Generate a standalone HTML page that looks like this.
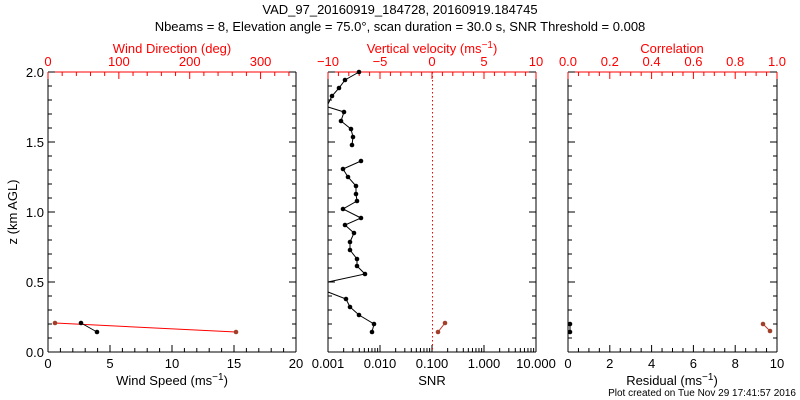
<!DOCTYPE html>
<html><head><meta charset="utf-8"><style>
html,body{margin:0;padding:0;background:#fff;width:800px;height:400px;overflow:hidden}
svg text{font-family:"Liberation Sans",sans-serif;font-size:13px}
</style></head><body>
<svg id="s" width="800" height="400" xmlns="http://www.w3.org/2000/svg">
<text x="400" y="14" text-anchor="middle">VAD_97_20160919_184728, 20160919.184745</text>
<text x="400" y="31" text-anchor="middle">Nbeams = 8, Elevation angle = 75.0°, scan duration = 30.0 s, SNR Threshold = 0.008</text>
<g id="g"></g>
<!-- labels -->
<g fill="red" text-anchor="middle">
<text x="172" y="53">Wind Direction (deg)</text>
<text x="432" y="53">Vertical velocity (ms<tspan dy="-5" font-size="10">−1</tspan><tspan dy="5">)</tspan></text>
<text x="672" y="53">Correlation</text>
</g>
<g text-anchor="middle">
<text x="172" y="385">Wind Speed (ms<tspan dy="-5" font-size="10">−1</tspan><tspan dy="5">)</tspan></text>
<text x="432" y="385">SNR</text>
<text x="672" y="385">Residual (ms<tspan dy="-5" font-size="10">−1</tspan><tspan dy="5">)</tspan></text>
<text x="17" y="212" transform="rotate(-90 17 212)">z (km AGL)</text>
</g>
<text x="796" y="396" text-anchor="end" font-size="10" style="font-size:10px">Plot created on Tue Nov 29 17:41:57 2016</text>
</svg>
<script>
var g=document.getElementById('g'),NS='http://www.w3.org/2000/svg',h='';
function L(x1,y1,x2,y2,c,extra){h+='<line x1="'+x1+'" y1="'+y1+'" x2="'+x2+'" y2="'+y2+'" stroke="'+c+'" stroke-width="1" '+(extra||'')+'/>';}
function T(x,y,s,c,a){h+='<text x="'+x+'" y="'+y+'" fill="'+c+'" text-anchor="'+(a||'middle')+'">'+s+'</text>';}
var T0=72,B=352;
function frame(x0,x1){L(x0,T0,x0,B,'#000');L(x1,T0,x1,B,'#000');L(x0,B,x1,B,'#000');L(x0,T0,x1,T0,'red');}
function yticks(x0,x1){for(var i=0;i<=20;i++){var y=B-i*14,len=(i%5==0)?7:4;L(x0,y,x0+len,y,'#000');L(x1,y,x1-len,y,'#000');}}
// left
frame(48,296);yticks(48,296);
for(var v=0;v<=20;v++){var x=48+v*12.4,len=v%5==0?7:4;L(x,B,x,B-len,'#000');if(v%5==0)T(x,368,v,'#000');}
for(var d=0;d<=350;d+=20){var x=48+d/350*248,len=d%100==0?7:4;L(x,T0,x,T0+len,'red');if(d%100==0)T(x,66,d,'red');}
['0.0','0.5','1.0','1.5','2.0'].forEach(function(s,i){T(44,B-i*70+5,s,'#000','end');});
// middle
frame(328,536);yticks(328,536);
for(var k=0;k<4;k++){for(var m=1;m<10;m++){var x=328+k*52+Math.log10(m)*52,len=m==1?7:4;L(x,B,x,B-len,'#000');}}
L(536,B,536,B-7,'#000');
['0.001','0.010','0.100','1.000','10.000'].forEach(function(s,i){T(328+i*52,368,s,'#000');});
for(var v=-10;v<=10;v++){var x=432+v*10.4,len=v%5==0?7:4;L(x,T0,x,T0+len,'red');if(v%5==0)T(x,66,v<0?'−'+(-v):v,'red');}
L(432.5,T0,432.5,B,'red','stroke-dasharray="1.5,2.5"');
// right
frame(568,777);yticks(568,777);
for(var i=0;i<=20;i++){var x=568+i*10.45,len=i%4==0?7:4;L(x,B,x,B-len,'#000');L(x,T0,x,T0+len,'red');}
for(var i=0;i<=5;i++){T(568+i*41.8,368,i*2,'#000');T(568+i*41.8,66,(i*0.2).toFixed(1),'red');}
function poly(p,c){h+='<polyline fill="none" stroke="'+c+'" points="'+p.map(function(q){return q.join(',')}).join(' ')+'"/>';}
function dots(p,c){p.forEach(function(q){h+='<circle cx="'+q[0]+'" cy="'+q[1]+'" r="2.3" fill="'+c+'"/>';});}
var s1=[[359,72],[345,80],[339,88],[332,96]],s1b=[[328,104]];
poly(s1.concat(s1b),'#000');dots(s1,'#000');
var s2=[[328,107],[344,112],[341,121],[351,129],[353,137],[352,145]];poly(s2,'#000');dots(s2.slice(1),'#000');
var s3=[[361,161],[343,169],[348,177],[356,186],[356,194],[357,201],[343,209],[361,218],[345,225],[354,233],[350,242],[350,250],[357,259],[357,266],[365,274],[328,282]];poly(s3,'#000');dots(s3.slice(0,-1),'#000');
var s4=[[328,292],[346,299],[350,307],[359,315],[374,324],[372,332]];poly(s4,'#000');dots(s4.slice(1),'#000');
var r=[[445,323],[438,332]];poly(r,'#c0392b');dots(r,'#a0402b');
poly([[55,323],[236,332]],'red');dots([[55,323],[236,332]],'#a0402b');
poly([[81,323],[97,332]],'#000');dots([[81,323],[97,332]],'#000');
poly([[570,324],[570,332]],'#000');dots([[570,324],[570,332]],'#000');
poly([[763,324],[770,331]],'#c0392b');dots([[763,324],[770,331]],'#a0402b');
g.innerHTML=h;
</script>
</body></html>
